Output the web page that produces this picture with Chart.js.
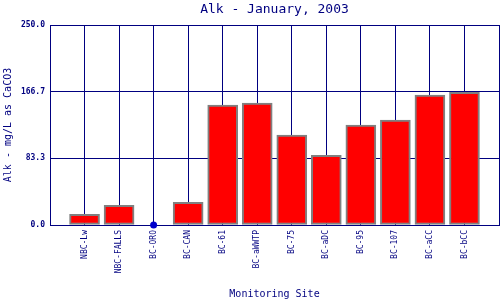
<!DOCTYPE html>
<html>
<head>
<meta charset="utf-8">
<script src="https://cdn.jsdelivr.net/npm/chart.js@4/dist/chart.umd.min.js"></script>
<style>
  html, body { margin: 0; padding: 0; background: #fff; }
  #diagram { width: 500px; height: 300px; }
</style>
</head>
<body>
<div id="diagram"><canvas id="chart" width="500" height="300"></canvas></div>
<script>
// sites along the x axis (blank slots pad both ends so the ticks sit like the original)
const sites = ['NBC-Lw', 'NBC-FALLS', 'BC-ORO', 'BC-CAN', 'BC-61', 'BC-aWWTP',
               'BC-75', 'BC-aDC', 'BC-95', 'BC-107', 'BC-aCC', 'BC-bCC'];
// alkalinity, mg/L as CaCO3 (BC-ORO has no bar, only a dot at zero)
const alk = [13.4, 24.6, null, 28.3, 150, 152.5, 112.5, 87.1, 125, 131, 162.5, 165.8];
const zeroDots = [null, null, 0, null, null, null, null, null, null, null, null, null];
const yTicks = [0, 83.3, 166.7, 250.0];

const navy = '#000080';
const labels = [''].concat(sites, ['']);
const pad = arr => [null].concat(arr, [null]);

const ctx = document.getElementById('chart').getContext('2d');
new Chart(ctx, {
    type: 'bar',
    data: {
        labels: labels,
        datasets: [
            {
                label: 'Alk',
                data: pad(alk),
                backgroundColor: '#ff0000',
                borderColor: '#808080',
                borderWidth: 2,
                borderSkipped: false,
                barThickness: 30,
                order: 2,
            },
            {
                type: 'line',
                label: 'zero',
                data: pad(zeroDots),
                showLine: false,
                pointRadius: 3.5,
                pointBackgroundColor: '#0000cc',
                pointBorderColor: '#0000cc',
                pointBorderWidth: 0,
                clip: false,
                order: 1,
            },
        ],
    },
    options: {
        responsive: false,
        animation: false,
        maintainAspectRatio: false,
        layout: { autoPadding: false, padding: { left: 0, right: 1, top: 0, bottom: 0 } },
        plugins: {
            legend: { display: false },
            tooltip: { enabled: false },
            title: {
                display: true,
                text: 'Alk - January, 2003',
                color: navy,
                fullSize: false,
                font: { family: 'DejaVu Sans Mono', size: 13, weight: 'normal', lineHeight: 1.2 },
                padding: { top: 2, bottom: 7.4 },
            },
        },
        scales: {
            x: {
                offset: false,
                // grid line at the blank last slot doubles as the right frame
                grid: { display: true, offset: false, color: navy, lineWidth: 1, drawTicks: false },
                border: { display: true, color: navy, width: 1 },
                ticks: {
                    color: navy,
                    font: { family: 'DejaVu Sans Mono', size: 8 },
                    minRotation: 90,
                    maxRotation: 90,
                    autoSkip: false,
                    padding: 5,
                },
                title: {
                    display: true,
                    text: 'Monitoring Site',
                    color: navy,
                    font: { family: 'DejaVu Sans Mono', size: 10 },
                    padding: { top: 0, bottom: 0 },
                },
                afterFit: scale => {
                    scale.height = 75;
                    scale.paddingLeft = 0;
                    scale.paddingRight = 0;
                },
            },
            y: {
                min: 0,
                max: 250,
                grid: { color: navy, lineWidth: 1, drawTicks: false },
                border: { display: true, color: navy, width: 1 },
                afterBuildTicks: scale => { scale.ticks = yTicks.map(v => ({ value: v })); },
                ticks: {
                    color: navy,
                    padding: 5,
                    font: { family: 'DejaVu Sans Mono', size: 8, weight: 'bold' },
                    callback: v => v.toFixed(1),
                },
                title: {
                    display: true,
                    text: 'Alk - mg/L as CaCO3',
                    color: navy,
                    font: { family: 'DejaVu Sans Mono', size: 10 },
                    padding: { top: 2, bottom: 0 },
                },
                afterFit: scale => {
                    scale.width = 50;
                    scale.paddingTop = 0;
                    scale.paddingBottom = 0;
                },
            },
        },
    },
});
</script>
</body>
</html>
